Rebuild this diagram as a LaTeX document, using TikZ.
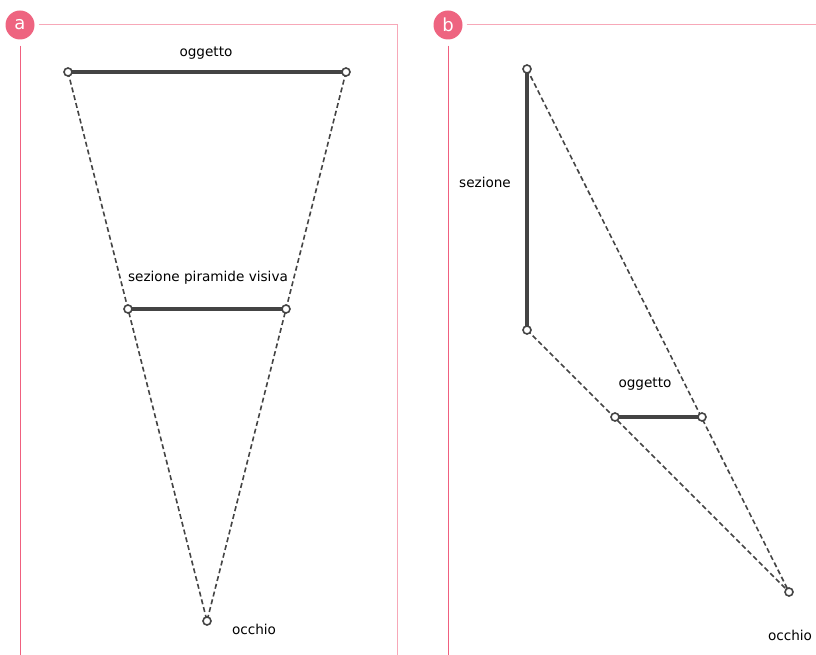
\documentclass[tikz,border=0pt]{standalone}
\usepackage{fontspec}
\setmainfont{DejaVu Sans}
\begin{document}
\begin{tikzpicture}[x=1pt,y=-1pt,
  badge/.style={circle,fill=badgepink,text=white,minimum size=29pt,inner sep=0pt,font=\fontsize{18}{18}\selectfont},
  pt/.style={circle,draw=linegray,fill=white,line width=1.6pt,minimum size=8pt,inner sep=0pt},
  seg/.style={draw=linegray,line width=3.4pt},
  ray/.style={draw=linegray,line width=1.6pt,dash pattern=on 5pt off 3pt},
  lbl/.style={font=\fontsize{13.6}{14}\selectfont,text=black},
  framelight/.style={draw=lightpink,line width=1pt},
  framedark/.style={draw=darkpink,line width=1pt}]
\definecolor{badgepink}{RGB}{238,100,128}
\definecolor{lightpink}{RGB}{247,168,184}
\definecolor{darkpink}{RGB}{240,96,127}
\definecolor{linegray}{RGB}{68,68,68}
\useasboundingbox (0,0) rectangle (816,655);
% frame a
\node[badge] (ba) at (20,25) {a};
\coordinate (fa1) at (397,25);
\coordinate (fa2) at (397,655);
\coordinate (fa3) at (20,655);
\draw[framelight] (ba.east) ++(4,0) -- (fa1) -- (fa2);
\draw[framedark] (ba.south) ++(0,6) -- (fa3);
% frame b
\node[badge] (bb) at (448,25) {b};
\coordinate (fb1) at (816,25);
\coordinate (fb3) at (448,655);
\draw[framelight] (bb.east) ++(4,0) -- (fb1);
\draw[framedark] (bb.south) ++(0,6) -- (fb3);
% diagram a
\coordinate (o1) at (68,72);
\coordinate (o2) at (346,72);
\coordinate (s1) at (128,309);
\coordinate (s2) at (286,309);
\coordinate (e) at (207,621);
\draw[ray] (o1) -- (e);
\draw[ray] (o2) -- (e);
\draw[seg] (o1) -- (o2);
\draw[seg] (s1) -- (s2);
\foreach \p in {o1,o2,s1,s2,e} \node[pt] at (\p) {};
\node[lbl] (la1) at (206,53) {oggetto};
\node[lbl] (la2) at (208,278) {sezione piramide visiva};
\node[lbl] (la3) at (254,629) {occhio};
% diagram b
\coordinate (t1) at (527,69);
\coordinate (t2) at (527,330);
\coordinate (q1) at (615,417);
\coordinate (q2) at (702,417);
\coordinate (f) at (789,592);
\draw[ray] (t1) -- (f);
\draw[ray] (t2) -- (f);
\draw[seg] (t1) -- (t2);
\draw[seg] (q1) -- (q2);
\foreach \p in {t1,t2,q1,q2,f} \node[pt] at (\p) {};
\node[lbl] (lb1) at (485,182) {sezione};
\node[lbl] (lb2) at (645,384) {oggetto};
\node[lbl] (lb3) at (790,635) {occhio};
\end{tikzpicture}
\end{document}
